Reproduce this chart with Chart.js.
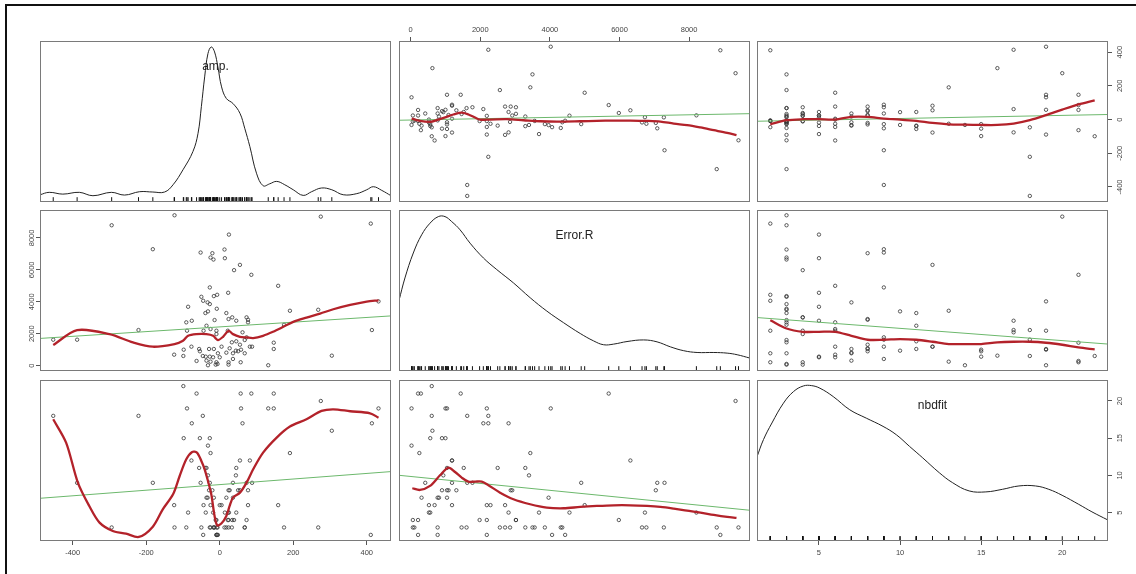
<!DOCTYPE html>
<html>
<head>
  <title>amp. / Error.R / nbdfit</title>
  <script src="https://cdn.jsdelivr.net/npm/chart.js@4"></script>
  <style>
    body { margin: 0; background: #fff; }
    #wrap { position: relative; width: 1136px; height: 574px; overflow: hidden; }
    #frame { position: absolute; left: 5px; top: 4px; right: -4px; bottom: -4px;
             border-top: 2px solid #111; border-left: 2px solid #111; }
    canvas { position: absolute; left: 0; top: 0; }
  </style>
</head>
<body>
<div id="wrap"><div id="frame"></div></div>
<script>
// observations, one entry per case
const amp = [-453,-388,-294,-221,-182,-124,-123,-99,-98,-91,-89,-86,-77,-76,-63,-56,-54,-52,-50,-46,
  -45,-44,-39,-38,-36,-36,-33,-32,-32,-29,-27,-27,-27,-25,-25,-25,-20,-18,-17,-16,
  -16,-14,-11,-9,-9,-9,-8,-7,-6,-5,0,5,13,14,18,18,22,23,24,24,
  24,25,27,33,34,36,36,39,44,45,45,50,55,55,57,58,62,68,68,73,
  73,77,77,82,86,88,132,147,147,159,175,191,268,275,305,411,414,432];
const errR = [1625,1625,8794,2231,7294,688,9419,606,1000,2713,2188,3688,1188,2813,294,1044,900,7085,4313,606,
  4063,2188,3294,563,2500,313,3963,3400,25,1044,4900,3856,563,6773,2294,250,7044,525,6648,4356,
  1044,2856,63,2188,1981,213,3563,4438,106,775,525,1188,7275,6731,3294,813,2188,4563,2919,213,
  63,8210,1088,1463,3025,775,419,5981,938,2813,1525,900,6313,1313,213,1000,2088,1606,775,3025,
  1775,2875,2713,1188,5690,1188,25,1438,1044,5000,2563,3438,3500,9335,625,8898,2231,4025];
const nbdfit = [18,9,3,18,9,6,3,22,15,3,19,5,12,17,21,11,15,9,3,18,
  2,6,11,5,11,7,7,10,14,8,9,3,15,3,6,13,8,5,3,3,
  7,3,4,2,4,2,3,2,3,2,6,6,3,5,3,7,4,5,8,4,
  3,5,8,3,4,7,9,4,10,5,11,8,12,8,21,19,17,3,3,4,
  9,8,6,12,21,9,19,21,19,6,3,13,3,20,16,2,17,19];

// axis ranges and tick labels
const ampRange = [-489, 466];
const errRange = [-335, 9750];
const nbdRange = [1.18, 22.82];
const ampTicks = [-400, -200, 0, 200, 400];
const errTicks = [0, 2000, 4000, 6000, 8000];
const nbdTicks = [5, 10, 15, 20];

// kernel density curves, [value, relative density 0-100]
const ampDensity = [[-489,4.5],[-464,6.0],[-427,4.9],[-382,6.0],[-345,3.9],[-295,6.0],[-259,4.3],[-218,6.4],
  [-182,6.2],[-150,6.2],[-127,10.7],[-100,20.0],[-73,31.3],[-59,42.7],[-50,59.2],[-41,77.7],[-32,92.2],
  [-23,96.3],[-14,93.2],[-5,83.9],[5,71.5],[18,64.3],[36,61.2],[55,55.1],[68,45.8],[82,34.4],[100,17.9],
  [118,10.1],[136,11.3],[155,12.8],[177,10.7],[200,7.6],[227,4.1],[250,6.4],[277,8.7],[305,7.6],
  [336,4.5],[373,5.2],[400,7.6],[418,9.5],[441,7.2],[466,3.9]];
const errDensity = [[-335,43.8],[-164,57.8],[76,73.3],[316,84.6],[556,91.8],[795,95.9],[987,95.9],[1179,92.8],
  [1419,87.7],[1707,79.4],[2090,70.2],[2474,63.0],[2954,54.7],[3434,45.5],[3913,37.2],[4393,30.0],
  [4872,23.3],[5256,18.7],[5544,16.3],[5832,16.7],[6216,18.3],[6695,19.3],[7079,18.1],[7463,15.0],
  [7846,12.6],[8230,11.5],[8710,11.5],[9094,11.1],[9381,10.1],[9750,8.0]];
const nbdDensity = [[1.18,52.3],[1.58,63.0],[2.10,73.3],[2.81,85.6],[3.43,92.8],[4.04,96.3],[4.55,96.5],
  [5.06,94.9],[5.88,89.7],[6.90,81.5],[7.92,76.3],[8.95,71.2],[9.77,66.0],[10.58,58.8],[11.40,51.6],
  [12.42,42.4],[13.24,36.2],[14.26,31.1],[15.29,30.5],[16.31,32.1],[17.33,34.2],[18.35,34.2],
  [19.17,32.1],[19.99,28.4],[21.01,22.8],[21.83,18.1],[22.82,13.0]];

// loess smoothers, [x, y]
const smoothAmpByErr = [[28,6],[268,-8],[556,-14],[795,0],[1035,16],[1227,30],[1467,41],[1659,30],[1850,12],
  [1994,0],[2282,0],[2762,2],[3242,-4],[3721,-10],[4201,-12],[4872,-10],[5352,-8],[5832,-6],[6311,-6],
  [6791,-8],[7175,-12],[7559,-24],[7942,-33],[8326,-47],[8710,-63],[9094,-79],[9362,-92]];
const smoothAmpByNbd = [[2,-28],[3,-4],[4,2],[5,2],[6,0],[7,16],[8,16],[9,6],[10,0],[11,-8],[12,-20],
  [13,-28],[14,-30],[15,-32],[16,-32],[17,-24],[18,-4],[19,26],[20,59],[21,90],[22,114]];
const smoothErrByAmp = [[-453,1290],[-388,2224],[-300,1975],[-236,1456],[-182,1186],[-123,1352],[-100,1559],
  [-86,1871],[-64,1975],[-36,1975],[-18,1871],[-5,1601],[9,1809],[24,2182],[36,1975],[55,1809],[73,1767],
  [91,1726],[118,1871],[145,2120],[173,2432],[200,2743],[236,3013],[273,3263],[309,3532],[355,3802],
  [400,4010],[432,4093]];
const smoothErrByNbd = [[2,2847],[3,2328],[4,2120],[5,2120],[6,2120],[7,1871],[8,1622],[9,1622],[10,1663],
  [11,1622],[12,1497],[13,1352],[14,1352],[15,1352],[16,1456],[17,1497],[18,1497],[19,1435],[20,1310],
  [21,1144],[22,1020]];
const smoothNbdByAmp = [[-453,17.54],[-418,14.40],[-386,9.03],[-355,5.89],[-327,3.65],[-291,2.53],[-255,2.17],
  [-220,1.72],[-182,3.11],[-155,5.44],[-127,7.46],[-109,9.92],[-91,12.16],[-75,13.15],[-62,13.06],
  [-50,11.94],[-41,10.82],[-32,9.25],[-23,7.46],[-14,4.55],[-7,3.29],[5,3.56],[18,4.55],[27,5.89],
  [36,7.01],[55,7.68],[73,9.03],[91,10.82],[118,13.06],[155,15.08],[191,16.56],[236,17.54],[277,18.66],
  [309,18.88],[355,18.62],[409,18.35],[432,17.76]];
const smoothNbdByErr = [[47,8.27],[268,8.04],[556,8.58],[843,10.01],[1083,11.04],[1275,10.46],[1467,9.70],
  [1659,9.16],[1850,9.16],[2043,9.16],[2234,8.67],[2570,7.68],[2954,6.79],[3434,6.12],[3913,5.67],
  [4393,5.58],[4872,5.76],[5352,5.89],[5832,5.98],[6311,5.98],[6791,5.89],[7175,5.76],[7559,5.53],
  [7942,5.26],[8326,5.0],[8710,4.68],[9094,4.41],[9362,4.28]];

// least-squares lines, end points
const fitAmpByErr = [[-335,-4],[9750,35]];
const fitAmpByNbd = [[1.18,-10],[22.82,30]];
const fitErrByAmp = [[-489,1705],[466,3117]];
const fitErrByNbd = [[1.18,3013],[22.82,1352]];
const fitNbdByAmp = [[-489,6.92],[466,10.51]];
const fitNbdByErr = [[-335,10.01],[9750,5.31]];

// ---- layout ----
const W = 1136, H = 574;
const colLeft = [40, 399, 757], rowTop = [41, 210, 380];
const panelW = 351, panelH = 161;
const AXIS_H = 20;   // room kept for horizontal tick labels
const FONT = 'Liberation Sans, Arial, sans-serif';

const vars = [
  { label: 'amp.', values: amp, range: ampRange, ticks: ampTicks, density: ampDensity },
  { label: 'Error.R', values: errR, range: errRange, ticks: errTicks, density: errDensity },
  { label: 'nbdfit', values: nbdfit, range: nbdRange, ticks: nbdTicks, density: nbdDensity }
];
const smooths = { '0-1': smoothAmpByErr, '0-2': smoothAmpByNbd, '1-0': smoothErrByAmp,
                  '1-2': smoothErrByNbd, '2-0': smoothNbdByAmp, '2-1': smoothNbdByErr };
const fits = { '0-1': fitAmpByErr, '0-2': fitAmpByNbd, '1-0': fitErrByAmp,
               '1-2': fitErrByNbd, '2-0': fitNbdByAmp, '2-1': fitNbdByErr };

const xy = p => ({ x: p[0], y: p[1] });

// outer axes alternate like pairs(): top/bottom and left/right
function xAxisPos(r, c) {
  if (r === 0 && c === 1) return 'top';
  if (r === 2 && c !== 1) return 'bottom';
  return null;
}
function yAxisPos(r, c) {
  if (c === 2 && r !== 1) return 'right';
  if (c === 0 && r === 1) return 'left';
  return null;
}

function makeScale(axis, range, ticks, position) {
  const horizontal = axis === 'x';
  return {
    type: 'linear', axis: axis,
    position: position || (horizontal ? 'bottom' : 'left'),
    display: !!position,
    min: range[0], max: range[1],
    afterBuildTicks: s => { s.ticks = ticks.map(v => ({ value: v })); },
    // fixed sizes so the chart area is set by the padding
    afterFit: s => {
      if (horizontal) s.height = position ? AXIS_H : 0;
      else s.width = 0;
    },
    grid: { drawOnChartArea: false, drawTicks: true, tickLength: 4, tickColor: '#555', lineWidth: 1 },
    border: { display: false },
    ticks: { display: horizontal, autoSkip: false, maxRotation: 0, minRotation: 0, padding: 3,
             color: '#444', font: { family: FONT, size: 7.5 }, callback: v => String(v) }
  };
}

// frame, variable name and rotated y labels
function decor(title, yScaleId, yPos, yTicks) {
  return {
    id: 'decor',
    afterDraw(chart) {
      const ctx = chart.ctx, a = chart.chartArea;
      ctx.save();
      ctx.strokeStyle = '#7a7a7a';
      ctx.lineWidth = 1;
      ctx.strokeRect(a.left + 0.5, a.top + 0.5, a.right - a.left - 1, a.bottom - a.top - 1);
      if (title) {
        ctx.fillStyle = '#222';
        ctx.font = '12px ' + FONT;
        ctx.textAlign = 'center';
        ctx.textBaseline = 'middle';
        ctx.fillText(title, (a.left + a.right) / 2, a.top + 26);
      }
      if (yPos) {
        const s = chart.scales[yScaleId];
        ctx.fillStyle = '#444';
        ctx.font = '7.5px ' + FONT;
        ctx.textAlign = 'center';
        ctx.textBaseline = 'middle';
        const x = yPos === 'left' ? a.left - 8.5 : a.right + 11.5;
        yTicks.forEach(v => {
          ctx.save();
          ctx.translate(x, s.getPixelForValue(v));
          ctx.rotate(-Math.PI / 2);
          ctx.fillText(String(v), 0, 0);
          ctx.restore();
        });
      }
      ctx.restore();
    }
  };
}

function addPanel(r, c) {
  const cv = document.createElement('canvas');
  cv.width = W; cv.height = H;
  document.getElementById('wrap').appendChild(cv);

  const xv = vars[c], yv = vars[r];
  const xPos = xAxisPos(r, c), yPos = yAxisPos(r, c);
  const padding = { left: colLeft[c], top: rowTop[r],
                    right: W - colLeft[c] - panelW, bottom: H - rowTop[r] - panelH };
  if (xPos === 'top') padding.top -= AXIS_H;
  if (xPos === 'bottom') padding.bottom -= AXIS_H;
  let datasets, scales, yScaleId = 'y';

  if (r === c) {
    datasets = [
      { data: xv.density.map(xy), showLine: true, borderColor: '#222', borderWidth: 1,
        pointRadius: 0, tension: 0.4, yAxisID: 'y' },
      { data: xv.values.map(v => ({ x: v, y: 1.5 })), showLine: false, pointStyle: 'line',
        pointRotation: 90, pointRadius: 2.4, pointBorderWidth: 1, pointBorderColor: '#111', yAxisID: 'y' }
    ];
    scales = { x: makeScale('x', xv.range, xv.ticks, xPos),
               y: { type: 'linear', display: false, min: 0, max: 100 } };
    if (yPos) { scales.yv = makeScale('y', yv.range, yv.ticks, yPos); yScaleId = 'yv'; }
  } else {
    const key = r + '-' + c;
    const pts = xv.values.map((v, i) => ({ x: v, y: yv.values[i] }));
    datasets = [
      { data: smooths[key].map(xy), showLine: true, borderColor: '#b3222a', borderWidth: 2.3,
        pointRadius: 0, tension: 0.3 },
      { data: fits[key].map(xy), showLine: true, borderColor: '#6cb86c', borderWidth: 1, pointRadius: 0 },
      { data: pts, showLine: false, pointRadius: 1.7, pointBorderWidth: 0.8,
        pointBorderColor: '#333', pointBackgroundColor: 'rgba(0,0,0,0)' }
    ];
    scales = { x: makeScale('x', xv.range, xv.ticks, xPos),
               y: makeScale('y', yv.range, yv.ticks, yPos) };
  }

  new Chart(cv, {
    type: 'scatter',
    data: { datasets },
    options: {
      responsive: false, animation: false, events: [],
      layout: { padding },
      scales,
      plugins: { legend: { display: false }, tooltip: { enabled: false } }
    },
    plugins: [decor(r === c ? xv.label : null, yScaleId, yPos, yv.ticks)]
  });
}

for (let r = 0; r < 3; r++)
  for (let c = 0; c < 3; c++) addPanel(r, c);
</script>
</body>
</html>
